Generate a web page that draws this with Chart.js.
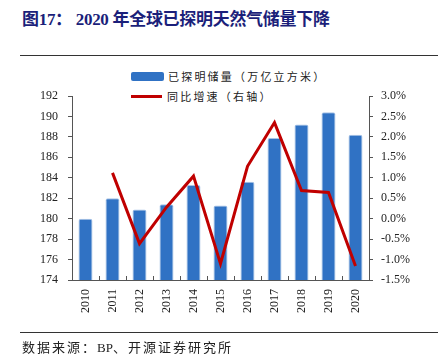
<!DOCTYPE html>
<html><head><meta charset="utf-8">
<script src="https://cdn.jsdelivr.net/npm/chart.js@4/dist/chart.umd.min.js"></script>
<style>
html,body{margin:0;padding:0;background:#fff;width:438px;height:364px;overflow:hidden;}
#wrap{position:relative;width:438px;height:364px;}
#title{position:absolute;left:22px;top:5px;font-family:"Liberation Serif","Noto Sans CJK SC",serif;font-weight:bold;font-size:17px;color:#1B1F7A;white-space:nowrap;letter-spacing:-0.3px;}
.rule{position:absolute;left:20px;width:418px;height:1px;background:#333;}
#src{position:absolute;left:22px;top:337px;font-family:"Liberation Serif","Noto Sans CJK SC",serif;font-size:13px;color:#222;white-space:nowrap;}
#src .cn{letter-spacing:2px;}
.leg{position:absolute;font-family:"Noto Sans CJK SC",sans-serif;font-size:11px;color:#222;white-space:nowrap;}
canvas{position:absolute;left:0;top:0;}
</style></head>
<body><div id="wrap">
<div id="title">图17：&nbsp;2020 年全球已探明天然气储量下降</div>
<div class="rule" style="top:55px"></div>
<div class="leg" style="left:131px;top:66px"><span style="display:inline-block;width:33px;height:9px;background:#3072C4;border-radius:2px;vertical-align:middle;margin-right:4px"></span><span style="vertical-align:middle;letter-spacing:2.2px">已探明储量（万亿立方米）</span></div>
<div class="leg" style="left:131px;top:86px"><span style="display:inline-block;width:31px;height:3px;background:#C00000;vertical-align:middle;margin-right:5px"></span><span style="vertical-align:middle;letter-spacing:2.2px">同比增速（右轴）</span></div>
<canvas id="c" width="438" height="364"></canvas>
<div class="rule" style="top:332px"></div>
<div id="src"><span class="cn">数据来源：</span>BP<span class="cn">、开源证券研究所</span></div>
</div>
<script>
const years = ['2010','2011','2012','2013','2014','2015','2016','2017','2018','2019','2020'];
const reserves = [180.0, 182.0, 180.9, 181.4, 183.3, 181.3, 183.6, 187.9, 189.2, 190.4, 188.2];
const growth = [null, 1.12, -0.61, 0.28, 1.04, -1.10, 1.28, 2.35, 0.69, 0.64, -1.16];
const leftTicks = [174,176,178,180,182,184,186,188,190,192];
const rightTicks = [-1.5,-1.0,-0.5,0.0,0.5,1.0,1.5,2.0,2.5,3.0];

const AXIS = '#555';
const innerTicks = {
  id:'innerTicks',
  afterDatasetsDraw(chart){
    const x = chart.scales.x, ctx = chart.ctx, b = chart.chartArea.bottom;
    ctx.save(); ctx.strokeStyle = AXIS; ctx.lineWidth = 1;
    for(let i=0;i<=years.length;i++){
      const px = Math.round(x.getPixelForValue(i-0.5))+0.5;
      ctx.beginPath(); ctx.moveTo(px,b); ctx.lineTo(px,b-4); ctx.stroke();
    }
    ctx.restore();
  }
};
const tickFont = {family:'"Liberation Serif", serif', size:12};
new Chart(document.getElementById('c'), {
  data:{
    labels: years,
    datasets:[
      {type:'line', label:'同比增速（右轴）', data: growth, yAxisID:'y2', borderColor:'#C00000', borderWidth:3, pointRadius:0, tension:0, spanGaps:false, order:0},
      {type:'bar', label:'已探明储量（万亿立方米）', data: reserves, yAxisID:'y', backgroundColor:'#3072C4', borderColor:'#A8C3E6', borderWidth:1, borderRadius:2, borderSkipped:false, barPercentage:0.52, categoryPercentage:1, order:1}
    ]
  },
  options:{
    responsive:false, animation:false, devicePixelRatio:1,
    layout:{padding:{left:0,right:0,top:96,bottom:0}},
    plugins:{legend:{display:false}, tooltip:{enabled:false}},
    scales:{
      x:{offset:true, grid:{display:false, drawTicks:false}, border:{display:true,color:AXIS},
        ticks:{minRotation:90,maxRotation:90,padding:9,color:'#222',font:tickFont},
        afterFit(s){s.height=364-280;}},
      y:{position:'left', min:174, max:192, afterBuildTicks(s){s.ticks=leftTicks.map(v=>({value:v}));},
        grid:{drawOnChartArea:false, drawTicks:true, tickLength:4, color:AXIS}, border:{display:true,color:AXIS},
        ticks:{padding:10,color:'#222',font:tickFont, callback:v=>String(v)},
        afterFit(s){s.width=72;}},
      y2:{position:'right', min:-1.5, max:3.0, afterBuildTicks(s){s.ticks=rightTicks.map(v=>({value:v}));},
        grid:{drawOnChartArea:false, drawTicks:true, tickLength:4, color:AXIS}, border:{display:true,color:AXIS},
        ticks:{padding:8,color:'#222',font:tickFont, callback:v=>v.toFixed(1)+'%'},
        afterFit(s){s.width=438-369;}}
    }
  },
  plugins:[innerTicks]
});
</script>
</body></html>
